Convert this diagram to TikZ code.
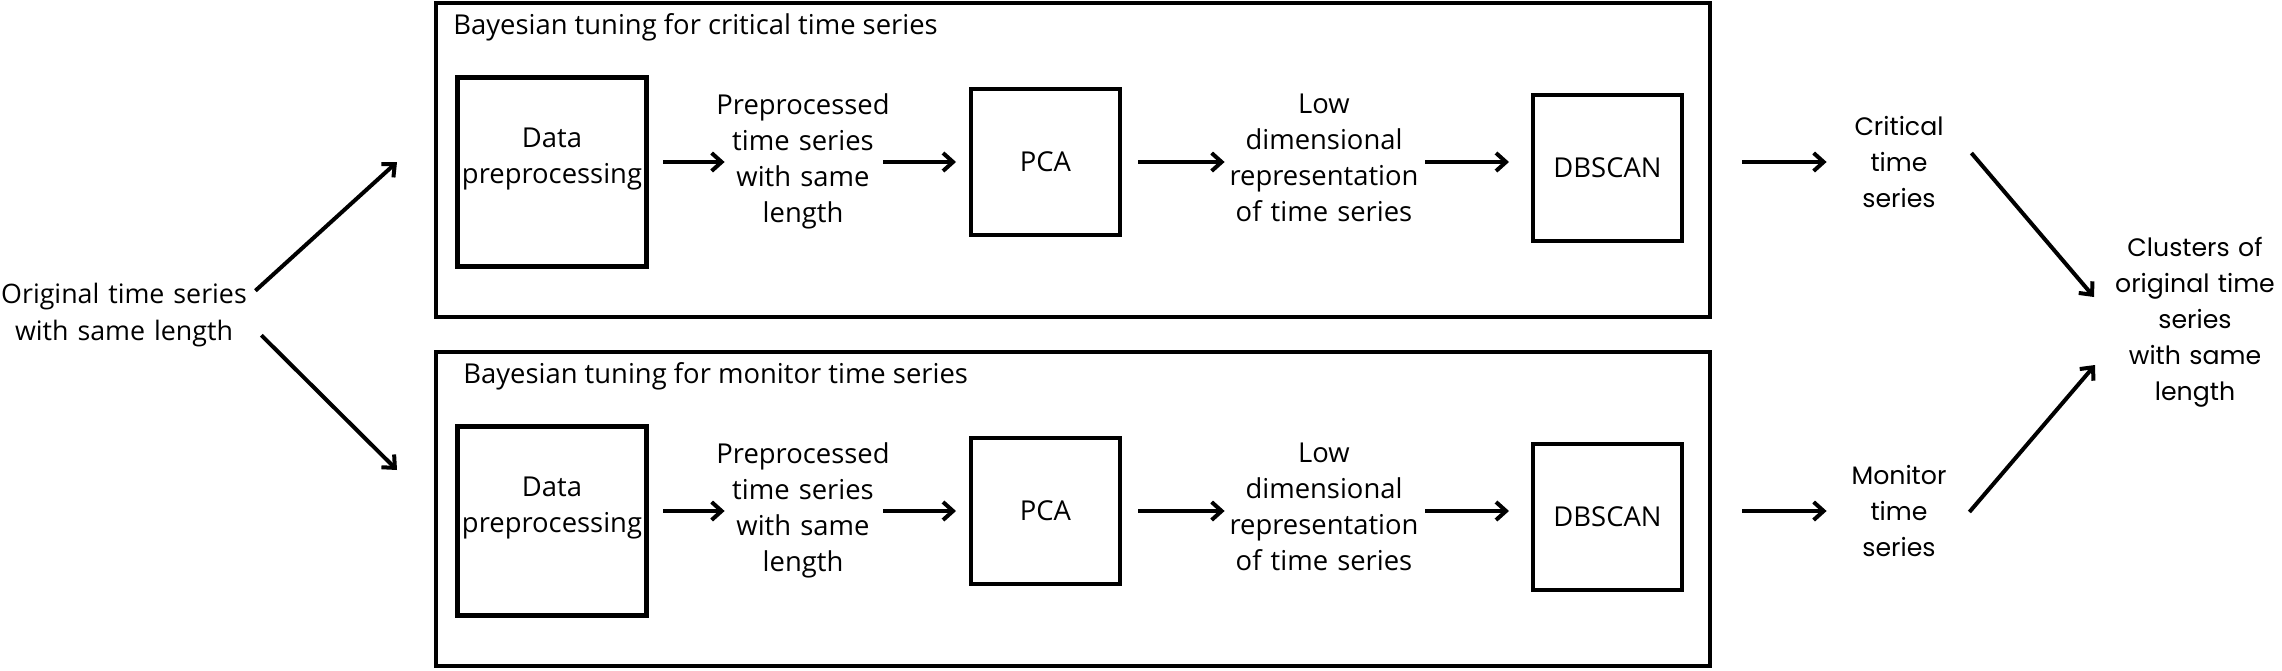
\documentclass[tikz,border=0pt]{standalone}
\usepackage{fontspec}
\setmainfont{Open Sans}
\newfontfamily\roundfont{Poppins}
\usetikzlibrary {positioning}
\usetikzlibrary{arrows.meta}
\usetikzlibrary{calc}

\begin{document}
\begin{tikzpicture}[x=0.5pt, y=-0.5pt, >={Straight Barb[length=5pt,width=9pt]},
	flow/.style={->, line width=2pt},
	frame/.style={draw, line width=1.75pt, minimum width=637pt, minimum height=157pt},
	stage/.style={draw, line width=2pt, minimum width=74.5pt, minimum height=73pt, font=\fontsize{13.7}{18}\selectfont},
	prep/.style={stage, line width=2.65pt, minimum size=94.5pt},
	txt/.style={align=center, inner sep=0pt, font=\fontsize{13.7}{18}\selectfont},
	side/.style={txt, font=\roundfont\fontsize{12.6}{18}\selectfont}]

	% fixed frame of the picture
	\useasboundingbox (0,0) rectangle (2282,670);

	% input and output of the whole flow
	\node[txt, text width=134pt, font=\fontsize{13.4}{18.5}\selectfont] (orig) at (124,315) {Original time series\\with same length};
	\node[side, text width=90pt] (clu) at (2195,322) {Clusters of\\original time\\series\\with same\\length};

	% one row per kind of time series
	\foreach \row/\dy/\tx/\kind/\outname in {c/0/453/critical/Critical, m/349/463/monitor/Monitor} {
		\node[frame] (box\row) at (1073,160+\dy) {};
		\node[txt, anchor=west] (title\row) at (\tx,27+\dy) {Bayesian tuning for \kind\ time series};
		\node[prep, label={[txt, yshift=6.5pt]center:Data\\preprocessing}] (data\row) at (552,172+\dy) {};
		\node[txt, text width=87.5pt] (pre\row) at (803,161+\dy) {Preprocessed\\time series\\with same\\length};
		\node[stage] (pca\row) at (1045.5,162+\dy) {PCA};
		\node[txt, text width=94.5pt] (low\row) at (1324,158+\dy) {Low\\dimensional\\representation\\of time series};
		\node[stage] (scan\row) at (1607.5,168+\dy) {DBSCAN};
		\node[side, text width=48pt] (res\row) at (1899,162+\dy) {\outname\\time\\series};

		% arrows along the row
		\foreach \src/\dst/\sa/\sb in {data/pre/7/-4.75, pre/pca/-3.75/6.5, pca/low/8/2.25, low/scan/3.25/11, scan/res/29/12}
			\draw[flow, shorten <=\sa pt, shorten >=\sb pt] (\src\row.east |- pca\row) -- (\dst\row.west |- pca\row);
	}

	% fan out from the input and back in to the clusters
	\coordinate (forkc) at (397,162);
	\coordinate (forkm) at (397,470);
	\coordinate (joinc) at (2094,297);
	\coordinate (joinm) at (2095,365);
	\draw[flow] ($(orig.north east)+(-3,8)$) -- (forkc);
	\draw[flow] ($(orig.south east)+(3,-12)$) -- (forkm);
	\draw[flow] ($(resc.east)+(24,-9)$) -- (joinc);
	\draw[flow] ($(resm.east)+(22,1)$) -- (joinm);

\end{tikzpicture}
\end{document}
